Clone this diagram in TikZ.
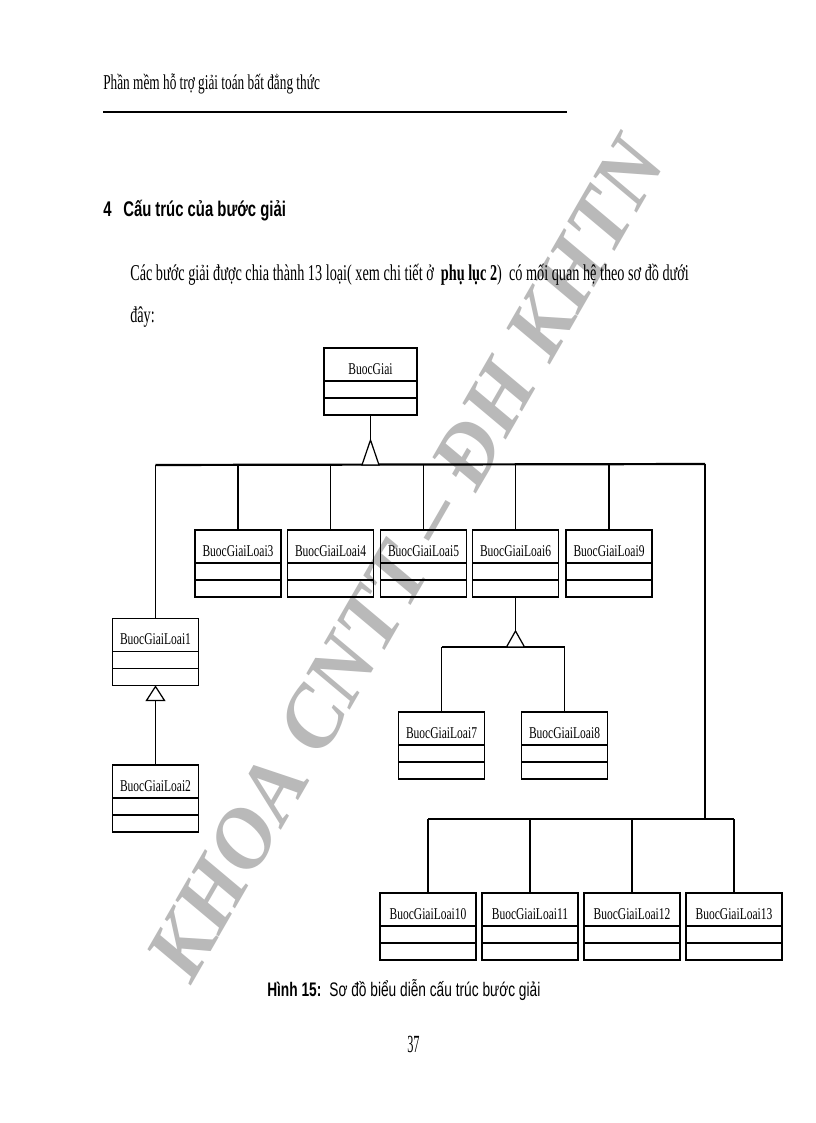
\documentclass[tikz,border=0pt]{standalone}
\usepackage{fontspec}
\setmainfont{Liberation Serif}
\newfontfamily\tnr[FakeStretch=0.7]{Liberation Serif}
\newfontfamily\tnrb[FakeStretch=0.63]{Liberation Serif}
\newfontfamily\tnrn[FakeStretch=0.5]{Liberation Serif}
\newfontfamily\arn[FakeStretch=0.7]{Liberation Sans}
\usetikzlibrary{calc}

\tikzset{
    cls/.style={draw, line width=1.4pt, inner sep=0pt, minimum width=62.7pt,
        text height=19pt, text depth=29.9pt, font=\tnr\fontsize{12}{12}\selectfont,
        path picture={
            \draw[line width=1.4pt] ([yshift=-24.1pt]path picture bounding box.north west) -- ([yshift=-24.1pt]path picture bounding box.north east);
            \draw[line width=1.4pt] ([yshift=-36.5pt]path picture bounding box.north west) -- ([yshift=-36.5pt]path picture bounding box.north east);
        }},
    wide/.style={minimum width=70pt},
    link/.style={line width=0.8pt},
    bus/.style={line width=1.6pt},
    gen/.style={line width=0.9pt, fill=white, line join=miter},
    txt/.style={anchor=base west, inner sep=0pt}
}

\begin{document}
\begin{tikzpicture}[x=0.7295pt, y=-0.7295pt]
    \path[fill=white, use as bounding box] (0,0) rectangle (816,1123);
    % watermark
    \node[rotate=60, inner sep=0pt, text=gray!55, font=\fontsize{62}{62}\selectfont\bfseries\itshape] (wm) at (406,559) {KHOA CNTT – ĐH KHTN};
    % page text
    \node[txt, font=\tnrb\fontsize{15.4}{16}\selectfont] (hdr) at (103,89) {Phần mềm hỗ trợ giải toán bất đẳng thức};
    \draw[line width=1.5pt] (103,112) -- (567,112);
    \node[txt, font=\arn\bfseries\fontsize{15.5}{16}\selectfont] (num) at (103,216) {4};
    \node[txt, font=\arn\bfseries\fontsize{15.5}{16}\selectfont] (sec) at (123,216) {Cấu trúc của bước giải};
    \node[txt, font=\tnrb\fontsize{16.5}{17}\selectfont] (par1) at (130,280) {Các bước giải được chia thành 13 loại( xem chi tiết ở\ \ \textbf{phụ lục 2})\ \ có mối quan hệ theo sơ đồ dưới};
    \node[txt, font=\tnrb\fontsize{16.5}{17}\selectfont] (par2) at (130,322) {đây:};
    \node[txt, font=\arn\fontsize{14.3}{15}\selectfont] (cap) at (267,996) {\textbf{Hình 15:}\hspace{5.8pt}Sơ đồ biểu diễn cấu trúc bước giải};
    \node[txt, font=\tnrn\fontsize{18}{18}\selectfont] (pg) at (407,1052) {37};
    % classes
    \node[cls, minimum width=67.8pt] (b0) at (370.5,381.5) {BuocGiai};
    \node[cls] (l3) at (238,563.5) {BuocGiaiLoai3};
    \node[cls] (l4) at (330.5,563.5) {BuocGiaiLoai4};
    \node[cls] (l5) at (423.5,563.5) {BuocGiaiLoai5};
    \node[cls] (l6) at (515.5,563.5) {BuocGiaiLoai6};
    \node[cls] (l9) at (609,563.5) {BuocGiaiLoai9};
    \node[cls] (l1) at (155.5,652) {BuocGiaiLoai1};
    \node[cls] (l2) at (155.5,798.5) {BuocGiaiLoai2};
    \node[cls] (l7) at (441.5,745.5) {BuocGiaiLoai7};
    \node[cls] (l8) at (564.5,745.5) {BuocGiaiLoai8};
    \node[cls, wide] (l10) at (428,926.5) {BuocGiaiLoai10};
    \node[cls, wide] (l11) at (530,926.5) {BuocGiaiLoai11};
    \node[cls, wide] (l12) at (632,926.5) {BuocGiaiLoai12};
    \node[cls, wide] (l13) at (734,926.5) {BuocGiaiLoai13};
    % BuocGiai and its subclasses
    \coordinate (a0) at ($(b0.south)+(0,24)$);
    \coordinate (t0) at ($(a0)+(0,25)$);
    \coordinate (c0) at (705,464);
    \coordinate (c1) at (705,819);
    \draw[link] (b0.south) -- (a0);
    \draw[bus] (l1.north |- t0) -- (c0);
    \draw[link] (l1.north) -- (l1.north |- t0);
    \draw[link] (l3.north) -- (l3.north |- t0);
    \draw[link] (l4.north) -- (l4.north |- t0);
    \draw[link] (l5.north) -- (l5.north |- t0);
    \draw[link] (l6.north) -- (l6.north |- t0);
    \draw[link] (l9.north) -- (l9.north |- t0);
    \draw[gen] (a0) -- ++(-8.5,25) -- ++(17,0) -- cycle;
    \draw[link] (c0) -- (c1);
    \draw[bus] (l10.north |- c1) -- (l13.north |- c1);
    \draw[link] (l10.north) -- (l10.north |- c1);
    \draw[link] (l11.north) -- (l11.north |- c1);
    \draw[link] (l12.north) -- (l12.north |- c1);
    \draw[link] (l13.north) -- (l13.north |- c1);
    % BuocGiaiLoai1 -> BuocGiaiLoai2
    \coordinate (t1) at ($(l1.south)+(0,14)$);
    \draw[link] (t1) -- (l2.north);
    \draw[gen] (l1.south) -- ++(-9,14) -- ++(18,0) -- cycle;
    % BuocGiaiLoai6 -> 7, 8
    \coordinate (a6) at ($(l6.south)+(0,33)$);
    \coordinate (t6) at ($(a6)+(0,16)$);
    \draw[link] (l6.south) -- (a6);
    \draw[bus] (l7.north |- t6) -- (l8.north |- t6);
    \draw[link] (l7.north) -- (l7.north |- t6);
    \draw[link] (l8.north) -- (l8.north |- t6);
    \draw[gen] (a6) -- ++(-9,16) -- ++(18,0) -- cycle;
\end{tikzpicture}
\end{document}
